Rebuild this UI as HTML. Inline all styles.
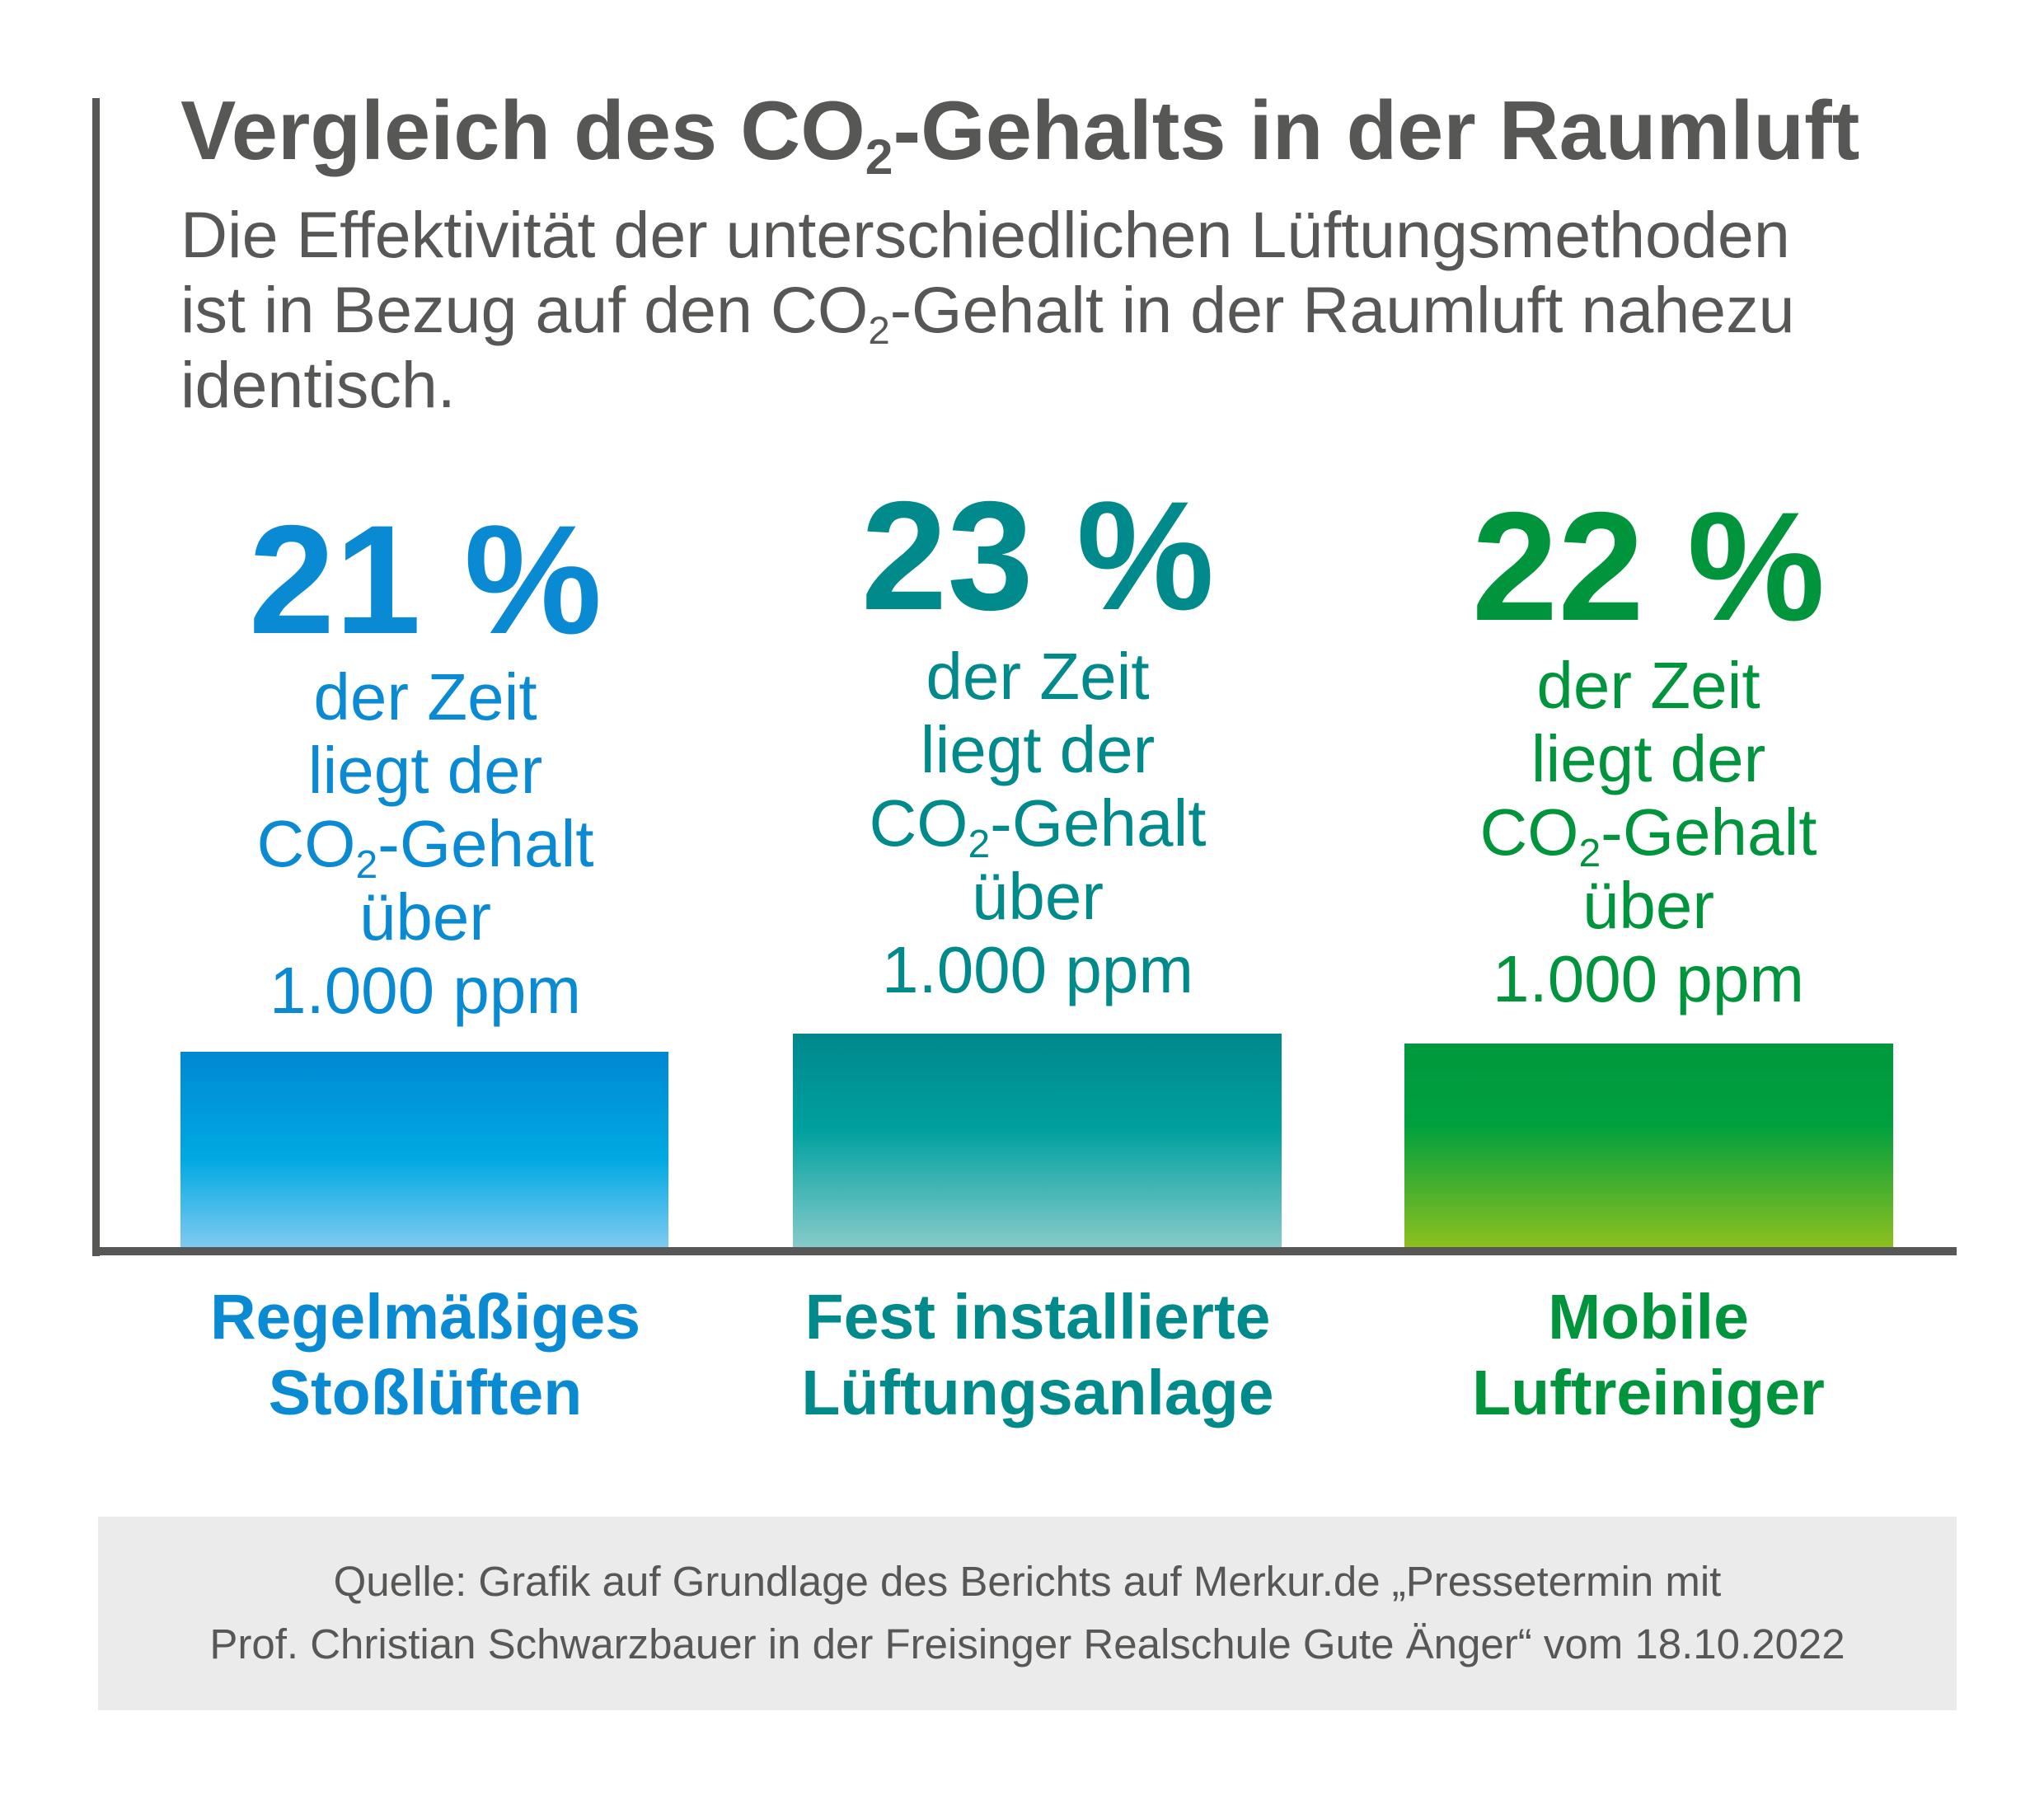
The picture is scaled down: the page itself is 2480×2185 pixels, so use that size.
<!DOCTYPE html>
<html><head><meta charset="utf-8"><style>
body{margin:0;width:2480px;height:2185px;background:#fff;position:relative;overflow:hidden;font-family:"Liberation Sans",sans-serif;}
.a{position:absolute;}
.sub{font-size:0.6em;position:relative;top:0.3em;line-height:0;}
.big{font-weight:bold;font-size:188px;line-height:188px;text-align:center;width:700px;}
.sm{font-size:80px;line-height:89px;text-align:center;width:700px;}
.lab{font-weight:bold;font-size:77px;line-height:92px;text-align:center;width:800px;}
.b{color:#0a8ad3}.t{color:#008a8b}.g{color:#00953c}
</style></head><body>
<div class="a" style="left:112px;top:119px;width:9px;height:1405px;background:#575756"></div>
<div class="a" style="left:112px;top:1513px;width:2262px;height:10px;background:#575756"></div>
<div class="a" style="left:219px;top:109px;font-size:101px;line-height:100px;font-weight:bold;color:#575756;white-space:nowrap">Vergleich des CO<span class="sub">2</span>-Gehalts in der Raumluft</div>
<div class="a" style="left:219px;top:239px;font-size:79px;line-height:91px;color:#575756;white-space:nowrap">Die Effektivität der unterschiedlichen Lüftungsmethoden<br>ist in Bezug auf den CO<span class="sub">2</span>-Gehalt in der Raumluft nahezu<br>identisch.</div>

<div class="a big b" style="left:166px;top:609px">21 %</div>
<div class="a big t" style="left:909px;top:580px">23 %</div>
<div class="a big g" style="left:1650px;top:593px">22 %</div>

<div class="a sm b" style="left:166px;top:801px">der Zeit<br>liegt der<br>CO<span class="sub">2</span>-Gehalt<br>über<br>1.000 ppm</div>
<div class="a sm t" style="left:909px;top:776px">der Zeit<br>liegt der<br>CO<span class="sub">2</span>-Gehalt<br>über<br>1.000 ppm</div>
<div class="a sm g" style="left:1650px;top:787px">der Zeit<br>liegt der<br>CO<span class="sub">2</span>-Gehalt<br>über<br>1.000 ppm</div>

<div class="a" style="left:219px;top:1276px;width:592px;height:237px;background:linear-gradient(#0088d2 0%,#00a9e2 55%,#7fcaf1 100%)"></div>
<div class="a" style="left:962px;top:1254px;width:593px;height:259px;background:linear-gradient(#00888c 0%,#00a09f 45%,#87cbca 100%)"></div>
<div class="a" style="left:1704px;top:1266px;width:593px;height:247px;background:linear-gradient(#00983d 0%,#00a03e 40%,#8dbf1f 100%)"></div>

<div class="a lab b" style="left:116px;top:1552px">Regelmäßiges<br>Stoßlüften</div>
<div class="a lab t" style="left:859px;top:1552px">Fest installierte<br>Lüftungsanlage</div>
<div class="a lab g" style="left:1600px;top:1552px">Mobile<br>Luftreiniger</div>

<div class="a" style="left:119px;top:1840px;width:2255px;height:235px;background:#ebebeb"></div>
<div class="a" style="left:119px;top:1881px;width:2255px;text-align:center;font-size:51px;line-height:76px;color:#575756">Quelle: Grafik auf Grundlage des Berichts auf Merkur.de „Pressetermin mit<br>Prof. Christian Schwarzbauer in der Freisinger Realschule Gute Änger“ vom 18.10.2022</div>
</body></html>
